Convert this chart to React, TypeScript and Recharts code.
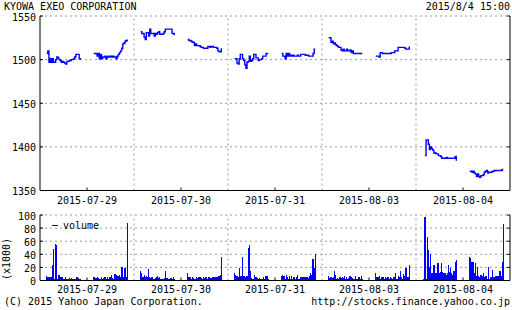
import { Bar, BarChart, CartesianGrid, Line, LineChart, ReferenceLine, XAxis, YAxis } from 'recharts';

const title = 'KYOWA EXEO CORPORATION';
const stamp = '2015/8/4 15:00';
const copyright = '(C) 2015 Yahoo Japan Corporation.';
const siteUrl = 'http://stocks.finance.yahoo.co.jp';

const days = ['2015-07-29', '2015-07-30', '2015-07-31', '2015-08-03', '2015-08-04'];
const priceTicks = [1350, 1400, 1450, 1500, 1550];
const volumeTicks = [0, 20, 40, 60, 80, 100];

// 5-minute prices, morning 9:00-11:30 and afternoon 12:30-15:00
const p0729Am = [1507, 1510, 1497, 1501, 1497, 1501, 1497, 1497, 1500, 1503, 1502, 1500, 1499, 1497, 1498, 1497, 1496, 1495, 1498, 1498, 1499, 1499, 1500, 1500, 1501, 1503, 1506, 1506, 1506, 1501, 1500];
const p0729Pm = [1507, 1507, 1507, 1504, 1507, 1501, 1506, 1501, 1503, 1503, 1504, 1501, 1503, 1504, 1503, 1504, 1503, 1504, 1503, 1503, 1501, 1504, 1506, 1508, 1510, 1513, 1518, 1519, 1521, 1522, 1523];
const p0730Am = [1532, 1530, 1530, 1526, 1523, 1531, 1531, 1527, 1535, 1530, 1530, 1530, 1527, 1530, 1529, 1531, 1532, 1529, 1529, 1529, 1530, 1532, 1535, 1535, 1535, 1535, 1535, 1535, 1530, 1530, 1528];
const p0730Pm = [1523, 1522, 1522, 1521, 1520, 1520, 1516, 1518, 1516, 1516, 1516, 1515, 1514, 1514, 1513, 1513, 1513, 1513, 1515, 1515, 1514, 1515, 1515, 1514, 1514, 1514, 1513, 1510, 1509, 1509, 1513];
const p0731Am = [1501, 1501, 1496, 1495, 1501, 1506, 1506, 1501, 1499, 1494, 1490, 1497, 1498, 1504, 1498, 1499, 1501, 1506, 1506, 1502, 1502, 1499, 1500, 1500, 1501, 1504, 1504, 1504, 1507, 1507, 1507];
const p0731Pm = [1507, 1504, 1504, 1501, 1507, 1504, 1507, 1504, 1505, 1504, 1505, 1504, 1504, 1504, 1505, 1504, 1504, 1506, 1506, 1506, 1506, 1505, 1505, 1505, 1504, 1504, 1504, 1504, 1507, 1512, 1512];
const p0803Am = [1525, 1525, 1520, 1521, 1518, 1519, 1517, 1516, 1515, 1514, 1514, 1511, 1510, 1512, 1510, 1510, 1512, 1510, 1510, 1511, 1508, 1510, 1507, 1507, 1507, 1507, 1507, 1507, 1507, 1507, 1507];
const p0803Pm = [1504, 1504, 1504, 1503, 1508, 1508, 1507, 1507, 1507, 1507, 1507, 1507, 1507, 1507, 1508, 1508, 1508, 1510, 1510, 1510, 1514, 1514, 1514, 1514, 1514, 1514, 1513, 1512, 1512, 1512, 1515];
const p0804Am = [null, null, 1390, 1408, 1408, 1403, 1397, 1400, 1398, 1396, 1393, 1393, 1392, 1392, 1390, 1390, 1389, 1387, 1387, 1387, 1387, 1388, 1387, 1387, 1387, 1387, 1387, 1387, 1387, 1389, 1384];
const p0804Pm = [1372, 1372, 1371, 1372, 1370, 1369, 1366, 1369, 1366, 1365, 1367, 1367, 1368, 1371, 1372, 1373, 1370, 1371, 1371, 1371, 1372, 1372, 1373, 1373, 1373, 1373, 1373, 1373, 1373, 1374, 1374];

// 5-minute volume, thousands of shares
const v0729Am = [7, 5, 5, 5, 6, 24, 48, 2, 56, 54, 3, 8, 5, 5, 5, 3, 3, 5, 3, 3, 4, 3, 4, 3, 2, 2, 3, 5, 4, 3, 3];
const v0729Pm = [5, 5, 4, 5, 4, 3, 3, 5, 3, 4, 5, 3, 5, 3, 5, 6, 8, 4, 2, 10, 8, 7, 7, 9, 6, 20, 20, 6, 19, 5, 88];
const v0730Am = [14, 12, 5, 9, 5, 7, 5, 17, 5, 4, 5, 3, 3, 4, 5, 7, 4, 5, 3, 3, 2, 4, 14, 4, 4, 3, 3, 4, 2, 5, 3];
const v0730Pm = [12, 6, 5, 3, 5, 4, 3, 3, 5, 4, 6, 5, 4, 3, 5, 4, 5, 6, 3, 5, 4, 4, 6, 5, 5, 5, 6, 6, 7, 9, 36];
const v0731Am = [12, 8, 7, 5, 19, 7, 7, 36, 7, 7, 6, 7, 50, 54, 14, 4, 3, 3, 9, 6, 4, 2, 4, 2, 3, 3, 5, 3, 7, 7, 2];
const v0731Pm = [7, 8, 7, 2, 8, 5, 3, 7, 3, 7, 3, 5, 3, 5, 8, 3, 3, 5, 5, 6, 6, 6, 6, 5, 4, 7, 12, 8, 33, 19, 40];
const v0803Am = [7, 4, 5, 4, 5, 14, 9, 2, 4, 2, 5, 4, 6, 4, 7, 2, 5, 3, 4, 7, 6, 4, 2, 3, 7, 2, 3, 5, 2, 7, 3];
const v0803Pm = [12, 5, 5, 7, 3, 5, 5, 6, 3, 5, 4, 5, 3, 5, 4, 3, 6, 5, 11, 3, 7, 6, 14, 5, 3, 10, 7, 19, 6, 6, 24];
const v0804Am = [null, 3, 97, 3, 67, 46, 20, 40, 11, 12, 24, 11, 12, 27, 26, 11, 13, 26, 13, 12, 11, 9, 12, 24, 13, 19, 12, 8, 14, 29, 31];
const v0804Pm = [36, 34, 29, 29, 12, 26, 7, 20, 7, 6, 9, 7, 12, 6, 7, 7, 2, 20, 3, 5, 16, 5, 6, 7, 7, 7, 7, 14, 7, 29, 86];

const prices = [[p0729Am, p0729Pm], [p0730Am, p0730Pm], [p0731Am, p0731Pm], [p0803Am, p0803Pm], [p0804Am, p0804Pm]];
const volumes = [[v0729Am, v0729Pm], [v0730Am, v0730Pm], [v0731Am, v0731Pm], [v0803Am, v0803Pm], [v0804Am, v0804Pm]];

// each day is shown as 8:30-15:30 (minutes), sessions start 9:00 and 12:30
const DAY_MIN = 420;
const SESSION_START = [30, 240];
const STEP = 5;
const X_DOMAIN = [0, days.length * DAY_MIN];

const priceRows = prices.flatMap((day, d) =>
  day.flatMap((sess, s) => {
    const start = d * DAY_MIN + SESSION_START[s];
    const pts = sess.map((v, i) => ({ t: start + i * STEP, price: v }));
    return [...pts, { t: start + sess.length * STEP, price: null }];
  })
);

const volumeRows = volumes.flatMap((day, d) =>
  day.flatMap((sess, s) => sess.map((v, i) => ({ t: d * DAY_MIN + SESSION_START[s] + i * STEP, vol: v })))
);

const dayCenters = days.map((_, d) => d * DAY_MIN + DAY_MIN / 2);
const dayEdges = days.slice(1).map((_, d) => (d + 1) * DAY_MIN);

const FONT = '"DejaVu Sans Mono", monospace';
const GRID = '#9a9a9a';
const BLUE = '#0000ff';

const DayTick = ({ x, y, payload, dy }: any) => (
  <g>
    <line x1={x} x2={x} y1={y} y2={y - 3} stroke="#000" />
    <text x={x} y={y + dy} textAnchor="middle" fontFamily={FONT} fontSize={10} fill="#000">
      {days[Math.floor(payload.value / DAY_MIN)]}
    </text>
  </g>
);

const TopTick = ({ x, y }: any) => <line x1={x} x2={x} y1={y} y2={y + 3} stroke="#000" />;

const ValueTick = ({ x, y, payload }: any) => (
  <g>
    <line x1={x} x2={x + 3} y1={y} y2={y} stroke="#000" />
    <text x={x - 4} y={y + 4.5} textAnchor="end" fontFamily={FONT} fontSize={10} fill="#000">
      {payload.value}
    </text>
  </g>
);

const RightTick = ({ x, y }: any) => <line x1={x} x2={x - 3} y1={y} y2={y} stroke="#000" />;

// volume bars drawn pixel-sharp like the original bitmap chart
const VolumeBar = ({ x, y, width, height }: any) =>
  height > 0 ? <rect x={x} y={y} width={Math.max(width, 1.2)} height={height} fill={BLUE} shapeRendering="crispEdges" /> : <g />;

const axisLine = { stroke: '#000' };

const Frame = ({ valueDomain, valueTicks, xLabelDy }: { valueDomain: number[]; valueTicks: number[]; xLabelDy: number }) => [
  <CartesianGrid key="grid" vertical={false} stroke={GRID} strokeDasharray="2 3" />,
  ...dayEdges.map((e) => <ReferenceLine key={`edge${e}`} x={e} stroke={GRID} strokeDasharray="2 3" />),
  <XAxis key="xb" dataKey="t" type="number" domain={X_DOMAIN} ticks={dayCenters} interval={0} allowDataOverflow height={14.5} tickSize={0} tickMargin={0} tickLine={false} axisLine={axisLine} tick={(p: any) => <DayTick {...p} dy={xLabelDy} />} />,
  <XAxis key="xt" xAxisId="top" orientation="top" dataKey="t" type="number" domain={X_DOMAIN} ticks={dayCenters} interval={0} allowDataOverflow height={0} tickSize={0} tickMargin={0} tickLine={false} axisLine={axisLine} tick={(p: any) => <TopTick {...p} />} />,
  <YAxis key="yl" domain={valueDomain} ticks={valueTicks} interval={0} allowDataOverflow width={40} tickSize={0} tickMargin={0} tickLine={false} axisLine={axisLine} tick={(p: any) => <ValueTick {...p} />} />,
  <YAxis key="yr" yAxisId="r" orientation="right" domain={valueDomain} ticks={valueTicks} interval={0} allowDataOverflow width={2} tickSize={0} tickMargin={0} tickLine={false} axisLine={axisLine} tick={(p: any) => <RightTick {...p} />} />,
];

export default function App() {
  return (
    <div style={{ position: 'absolute', left: 0, top: 0, width: 512, height: 310, background: '#fff' }}>
      <div style={{ position: 'absolute', left: 0, top: 0 }}>
        <LineChart width={512} height={205} data={priceRows} margin={{ top: 16, right: 0, bottom: 0, left: 0 }}>
          {Frame({ valueDomain: [1350, 1550], valueTicks: priceTicks, xLabelDy: 13.5 })}
          <Line dataKey="price" type="stepAfter" stroke={BLUE} strokeWidth={1.4} dot={false} connectNulls={false} isAnimationActive={false} />
        </LineChart>
      </div>
      <div style={{ position: 'absolute', left: 0, top: 200 }}>
        <BarChart width={512} height={95} data={volumeRows} margin={{ top: 15, right: 0, bottom: 0, left: 0 }}>
          {Frame({ valueDomain: [0, 100], valueTicks: volumeTicks, xLabelDy: 12 })}
          <Bar dataKey="vol" fill={BLUE} barSize={1.12} shape={(p: any) => <VolumeBar {...p} />} isAnimationActive={false} />
        </BarChart>
      </div>
      <svg width={512} height={310} style={{ position: 'absolute', left: 0, top: 0, pointerEvents: 'none' }} fontFamily={FONT} fontSize={10} fill="#000">
        <text x={4} y={10}>{title}</text>
        <text x={510} y={10} textAnchor="end">{stamp}</text>
        <text x={10} y={259} textAnchor="middle" transform="rotate(-90 10 259)">(x1000)</text>
        <line x1={52} x2={58} y1={225.5} y2={225.5} stroke={BLUE} />
        <text x={63} y={229}>volume</text>
        <text x={4} y={305}>{copyright}</text>
        <text x={510} y={305} textAnchor="end">{siteUrl}</text>
      </svg>
    </div>
  );
}
